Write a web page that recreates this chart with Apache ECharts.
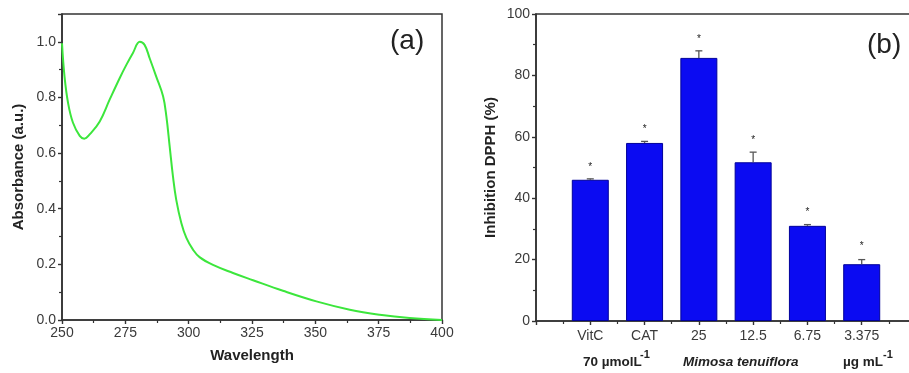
<!DOCTYPE html>
<html>
<head>
<meta charset="utf-8">
<script src="https://cdn.jsdelivr.net/npm/echarts@6/dist/echarts.min.js"></script>
<style>
  html, body { margin: 0; padding: 0; background: #fff; }
  #chart { width: 909px; height: 373px; }
</style>
</head>
<body>
<div id="chart"></div>
<script>
// (a) UV-vis absorption spectrum
const wavelength = [250, 251, 252.4, 254.3, 257, 258.8, 261, 264.9, 268.8, 272.8, 275.4, 278, 280.7,
  282.6, 284.6, 287.2, 289.9, 291.2, 292.5, 293.8, 295.1, 297.1, 299.1, 301.7, 304.3, 309.6,
  317.5, 325.4, 337.2, 350.4, 363.6, 375.4, 387.2, 400];
const absorbance = [0.995, 0.875, 0.78, 0.71, 0.662, 0.652, 0.668, 0.714, 0.792, 0.87, 0.917, 0.96, 1.0,
  0.989, 0.941, 0.875, 0.804, 0.732, 0.624, 0.516, 0.432, 0.349, 0.295, 0.253, 0.226, 0.198,
  0.169, 0.143, 0.105, 0.067, 0.037, 0.019, 0.007, 0.0];

// (b) DPPH inhibition
const samples = ['VitC', 'CAT', '25', '12.5', '6.75', '3.375'];
const inhibition = [46.0, 58.0, 85.7, 51.7, 31.0, 18.5];
const errorTop = [46.3, 58.5, 88.0, 55.0, 31.4, 20.0];
const starLevel = [50.7, 63.0, 92.5, 59.5, 36.0, 24.9];

const axisColor = '#333';
const labelFont = 'Liberation Sans, Arial, sans-serif';

const chart = echarts.init(document.getElementById('chart'));

function baseAxis(extra) {
  return Object.assign({
    axisLine: { show: true, lineStyle: { color: axisColor, width: 1.6 } },
    axisTick: { show: true, inside: false, length: 4, lineStyle: { color: axisColor, width: 1.4 } },
    minorTick: { show: true, splitNumber: 2, length: 3, lineStyle: { color: axisColor, width: 1.2 } },
    splitLine: { show: false },
    axisLabel: { color: '#3a3a3a', fontSize: 14, fontFamily: labelFont, margin: 6 },
    nameTextStyle: { color: '#222', fontSize: 15, fontWeight: 'bold', fontFamily: labelFont }
  }, extra);
}

const barData = inhibition.map((v, i) => [i + 1, v]);
const errData = inhibition.map((v, i) => [i + 1, v, errorTop[i], starLevel[i]]);

chart.setOption({
  animation: false,
  backgroundColor: '#fff',
  grid: [
    { left: 62, top: 14, width: 380, height: 306, outerBoundsMode: 'none', containLabel: false,
      show: true, borderColor: axisColor, borderWidth: 1.5, backgroundColor: 'transparent' },
    { left: 536, top: 14, width: 380, height: 307, outerBoundsMode: 'none', containLabel: false,
      show: true, borderColor: axisColor, borderWidth: 1.5, backgroundColor: 'transparent' }
  ],
  xAxis: [
    baseAxis({
      gridIndex: 0, type: 'value', min: 250, max: 400, interval: 25,
      name: 'Wavelength', nameLocation: 'middle', nameGap: 28
    }),
    baseAxis({
      gridIndex: 1, type: 'value', min: 0, max: 7, interval: 1,
      axisLabel: { color: '#3a3a3a', fontSize: 14, fontFamily: labelFont, margin: 8,
        formatter: v => samples[v - 1] || '' }
    })
  ],
  yAxis: [
    baseAxis({
      gridIndex: 0, type: 'value', min: 0, max: 1.1, interval: 0.2,
      axisLabel: { color: '#3a3a3a', fontSize: 14, fontFamily: labelFont, margin: 6,
        showMaxLabel: false, formatter: v => v.toFixed(1) },
      name: 'Absorbance (a.u.)', nameLocation: 'middle', nameGap: 36
    }),
    baseAxis({
      gridIndex: 1, type: 'value', min: 0, max: 100, interval: 20,
      name: 'Inhibition DPPH (%)', nameLocation: 'middle', nameGap: 38
    })
  ],
  series: [
    {
      type: 'line', xAxisIndex: 0, yAxisIndex: 0,
      data: wavelength.map((w, i) => [w, absorbance[i]]),
      showSymbol: false, smooth: 0.4,
      lineStyle: { color: '#3ce63c', width: 2 }
    },
    {
      type: 'bar', xAxisIndex: 1, yAxisIndex: 1,
      data: barData, barWidth: 37,
      itemStyle: { color: '#0b0bf2', borderColor: '#00009a', borderWidth: 1 }
    },
    {
      type: 'custom', xAxisIndex: 1, yAxisIndex: 1, z: 5,
      data: errData,
      renderItem: function (params, api) {
        const x = api.value(0);
        const lo = api.coord([x, api.value(1)]);
        const hi = api.coord([x, api.value(2)]);
        const st = api.coord([x, api.value(3)]);
        const cap = 3.5;
        return {
          type: 'group',
          children: [
            { type: 'line', shape: { x1: lo[0], y1: lo[1], x2: hi[0], y2: hi[1] },
              style: { stroke: '#555', lineWidth: 1.3 } },
            { type: 'line', shape: { x1: hi[0] - cap, y1: hi[1], x2: hi[0] + cap, y2: hi[1] },
              style: { stroke: '#555', lineWidth: 1.3 } },
            { type: 'text', x: st[0], y: st[1] + 2,
              style: { text: '*', fill: '#222', fontSize: 10, fontFamily: labelFont,
                align: 'center', verticalAlign: 'middle' } }
          ]
        };
      }
    }
  ],
  graphic: [
    { type: 'text', left: 390, top: 27,
      style: { text: '(a)', fill: '#222', fontSize: 28, fontFamily: labelFont } },
    { type: 'text', left: 867, top: 31,
      style: { text: '(b)', fill: '#222', fontSize: 28, fontFamily: labelFont } },
    { type: 'text', left: 583, top: 355,
      style: { text: '70 µmolL', fill: '#222', fontSize: 13.5, fontWeight: 'bold', fontFamily: labelFont } },
    { type: 'text', left: 640, top: 349,
      style: { text: '-1', fill: '#222', fontSize: 11, fontWeight: 'bold', fontFamily: labelFont } },
    { type: 'text', left: 683, top: 355,
      style: { text: 'Mimosa tenuiflora', fill: '#222', fontSize: 13.5, fontWeight: 'bold', fontStyle: 'italic', fontFamily: labelFont } },
    { type: 'text', left: 843, top: 355,
      style: { text: 'µg mL', fill: '#222', fontSize: 13.5, fontWeight: 'bold', fontFamily: labelFont } },
    { type: 'text', left: 883, top: 349,
      style: { text: '-1', fill: '#222', fontSize: 11, fontWeight: 'bold', fontFamily: labelFont } }
  ]
});
</script>
</body>
</html>
